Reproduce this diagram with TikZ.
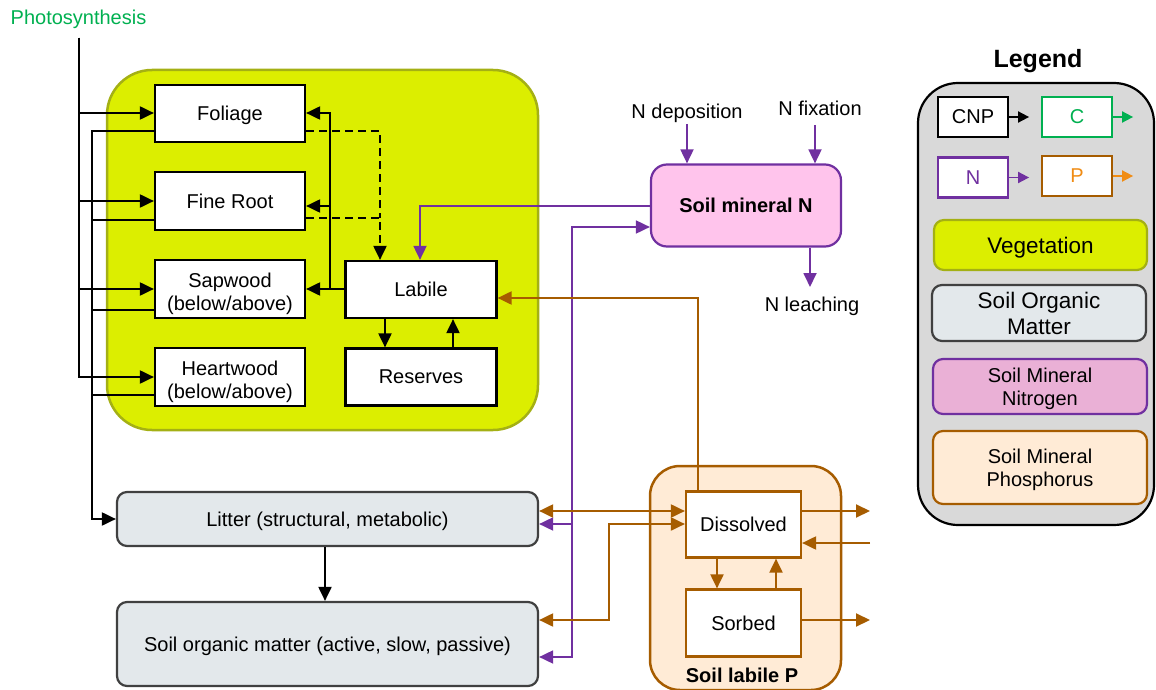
\documentclass[tikz,border=0pt]{standalone}
\usepackage{fontspec}
\setmainfont{Liberation Sans}
\usetikzlibrary{arrows.meta}

\definecolor{vegfill}{RGB}{220,238,0}
\definecolor{vegline}{RGB}{164,176,20}
\definecolor{somfill}{RGB}{227,232,235}
\definecolor{somline}{RGB}{64,64,64}
\definecolor{nline}{RGB}{112,48,160}
\definecolor{nfill}{RGB}{255,196,236}
\definecolor{nlegfill}{RGB}{234,176,214}
\definecolor{pline}{RGB}{166,92,0}
\definecolor{pfill}{RGB}{255,235,214}
\definecolor{porange}{RGB}{240,140,20}
\definecolor{cgreen}{RGB}{0,176,80}
\definecolor{leggray}{RGB}{217,217,217}

\newcommand{\fsz}{\fontsize{20}{23}\selectfont}
\newcommand{\fbig}{\fontsize{22.5}{26}\selectfont}

\tikzset{
  every node/.append style={text depth=0pt},
  pool/.style={draw=black, line width=2.2pt, fill=white, align=center,
    inner sep=0pt, font=\fsz, minimum width=150pt, minimum height=57pt},
  label/.style={font=\fsz, inner sep=2pt, align=center},
  tip/.style={-{Triangle[length=14pt,width=13pt]}},
  both/.style={{Triangle[length=14pt,width=13pt]}-{Triangle[length=14pt,width=13pt]}},
  flow/.style={draw=black, line width=2pt, tip},
  link/.style={draw=black, line width=2pt},
  nflow/.style={draw=nline, line width=1.8pt, tip},
  pflow/.style={draw=pline, line width=2pt, tip},
  legtip/.style={-{Triangle[length=11pt,width=11pt]}, line width=1.8pt},
  legpool/.style={line width=2.2pt, fill=white, font=\fsz, inner sep=0pt,
    minimum width=70pt, minimum height=40pt},
  legband/.style={rounded corners=10pt, line width=2.2pt, align=center,
    inner sep=0pt, minimum width=214pt},
}

\begin{document}
\begin{tikzpicture}[x=1pt,y=-1pt]
\useasboundingbox (0,0) rectangle (1156,690);

% ---- containers ----
\node[draw=vegline, fill=vegfill, line width=2.5pt, rounded corners=45pt,
  minimum width=431pt, minimum height=360pt] (veg) at (322.5,250) {};
\node[draw=pline, fill=pfill, line width=2.5pt, rounded corners=30pt,
  minimum width=191pt, minimum height=224pt] (soilp) at (745.5,578) {};
\node[font=\fsz\bfseries, inner sep=0pt] (soilplab) at (742,675) {Soil labile P};

% ---- vegetation pools ----
\node[pool] (foliage) at (230,113.5) {Foliage};
\node[pool, minimum height=58pt] (fineroot) at (230,201) {Fine Root};
\node[pool, minimum height=58pt] (sapwood) at (230,289) {\\[-3pt]Sapwood\\(below/above)};
\node[pool, minimum height=58pt] (heartwood) at (230,377) {\\[-3pt]Heartwood\\(below/above)};
\node[pool, minimum width=151pt] (labile) at (421,289.5) {Labile};
\node[pool, minimum width=151pt] (reserves) at (421,377) {Reserves};

% ---- soil pools ----
\node[draw=nline, fill=nfill, line width=2.2pt, rounded corners=16pt,
  minimum width=190pt, minimum height=82pt, font=\fsz\bfseries] (smn) at (746,205.5) {Soil mineral N};
\node[draw=somline, fill=somfill, line width=2.2pt, rounded corners=10pt,
  minimum width=421pt, minimum height=54pt, font=\fsz] (litter) at (327.5,519) {Litter (structural, metabolic)};
\node[draw=somline, fill=somfill, line width=2.2pt, rounded corners=10pt,
  minimum width=421pt, minimum height=84pt, font=\fsz] (som) at (327.5,644) {Soil organic matter (active, slow, passive)};
\node[draw=pline, fill=white, line width=2.2pt, inner sep=0pt,
  minimum width=115pt, minimum height=66pt, font=\fsz] (dissolved) at (743.5,524.5) {Dissolved};
\node[draw=pline, fill=white, line width=2.2pt, inner sep=0pt,
  minimum width=115pt, minimum height=67pt, font=\fsz] (sorbed) at (743.5,623) {Sorbed};

% ---- free labels ----
\node[label, text=cgreen] (photo) at (78.5,17) {Photosynthesis};
\node[label] (ndep) at (687,111) {N deposition};
\node[label] (nfix) at (820,108) {N fixation};
\node[label] (nleach) at (812,304) {N leaching};

% ---- carbon input from photosynthesis ----
\coordinate (ps) at (79,38);
\draw[flow] (ps) |- (foliage.west |- 0,113);
\draw[flow] (ps) |- (fineroot.west);
\draw[flow] (ps) |- (sapwood.west);
\draw[flow] (ps) |- (heartwood.west);

% ---- turnover to litter ----
\draw[flow] (foliage.west |- 0,131) -| (92,519) -- (litter.west);
\draw[link] (fineroot.west |- 0,220) -- (92,220);
\draw[link] (sapwood.west |- 0,310) -- (92,310);
\draw[link] (heartwood.west |- 0,395) -- (92,395);

% ---- allocation from labile ----
\coordinate (lj) at (330,289);
\draw[flow] (labile.west |- lj) -- (sapwood.east |- lj);
\draw[flow] (lj) |- (foliage.east |- 0,113);
\draw[flow] (lj) |- (fineroot.east |- 0,206);

% ---- retranslocation (dashed) ----
\draw[link, dash pattern=on 8pt off 5pt] (foliage.east |- 0,131) -| (380,218);
\draw[flow, dash pattern=on 8pt off 5pt] (fineroot.east |- 0,218) -| (labile.north -| 380,0);

% ---- labile <-> reserves ----
\draw[flow] (labile.south -| 385,0) -- (reserves.north -| 385,0);
\draw[flow] (reserves.north -| 453,0) -- (labile.south -| 453,0);

% ---- nitrogen ----
\draw[nflow] (smn.west |- 0,206) -| (labile.north -| 420,0);
\coordinate (nda) at (687,124);
\draw[nflow] (nda) -- (smn.north -| nda);
\coordinate (nfa) at (815,125);
\draw[nflow] (nfa) -- (smn.north -| nfa);
\coordinate (nla) at (810,287);
\draw[nflow] (smn.south -| nla) -- (nla);
\draw[draw=nline, line width=1.8pt, both] (som.east |- 0,657) -| (572,227) -- (smn.west |- 0,227);
\draw[nflow] (572,524) -- (litter.east |- 0,524);

% ---- phosphorus ----
\draw[pflow] (dissolved.north -| 698,0) |- (labile.east |- 0,298);
\draw[draw=pline, line width=2pt, both] (litter.east |- 0,511) -- (dissolved.west |- 0,511);
\draw[draw=pline, line width=2pt, both] (som.east |- 0,620) -| (609,524) -- (dissolved.west |- 0,524);
\draw[pflow] (dissolved.south -| 717,0) -- (sorbed.north -| 717,0);
\draw[pflow] (sorbed.north -| 776,0) -- (dissolved.south -| 776,0);
\coordinate (pout1) at (870,511);
\coordinate (pin) at (870,543);
\coordinate (pout2) at (870,620);
\draw[pflow] (dissolved.east |- pout1) -- (pout1);
\draw[pflow] (pin) -- (dissolved.east |- pin);
\draw[pflow] (sorbed.east |- pout2) -- (pout2);

% ---- litter -> soil organic matter ----
\draw[flow] (litter.south -| 325,0) -- (som.north -| 325,0);

% ---- legend ----
\node[font=\fontsize{25}{28}\selectfont\bfseries] (legtitle) at (1038,58) {Legend};
\node[draw=black, fill=leggray, line width=2.2pt, rounded corners=40pt,
  minimum width=236pt, minimum height=442pt] (legend) at (1036,304) {};
\node[legpool, draw=black] (lcnp) at (973,117) {CNP};
\node[legpool, draw=cgreen, text=cgreen] (lc) at (1077,117) {C};
\node[legpool, draw=nline, text=nline] (ln) at (973,177.5) {N};
\node[legpool, draw=pline, text=porange] (lp) at (1077,176) {P};
\draw[legtip, draw=black] (lcnp.east) -- ++(20,0);
\draw[legtip, draw=cgreen] (lc.east) -- ++(20,0);
\draw[legtip, draw=nline] (ln.east) -- ++(20,0);
\draw[legtip, draw=porange] (lp.east) -- ++(20,0);
\node[legband, draw=vegline, fill=vegfill, minimum width=213pt, minimum height=50pt,
  font=\fbig] (lveg) at (1040.5,245) {Vegetation};
\node[legband, draw=somline, fill=somfill, minimum height=56pt,
  font=\fbig] (lsom) at (1039,313) {Soil Organic\\Matter};
\node[legband, draw=nline, fill=nlegfill, minimum height=55pt,
  font=\fsz] (lsmn) at (1040,386.5) {Soil Mineral\\Nitrogen};
\node[legband, draw=pline, fill=pfill, minimum height=73pt,
  font=\fsz] (lsmp) at (1040,467.5) {Soil Mineral\\Phosphorus};
\end{tikzpicture}
\end{document}
